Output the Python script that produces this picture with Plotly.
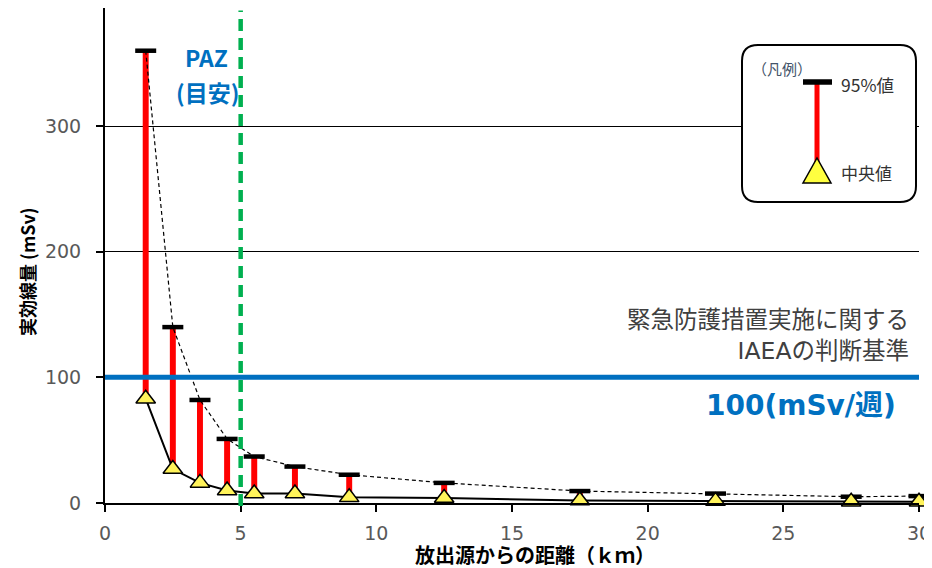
import plotly.graph_objects as go

# ---- data ----
distance_km = [1.5, 2.5, 3.5, 4.5, 5.5, 7, 9, 12.5, 17.5, 22.5, 27.5, 30]
dose_p95 = [360, 140, 82, 51, 37, 29, 22.5, 16, 9.5, 7.5, 5, 5.5]
dose_median = [83, 27, 16, 10, 7.5, 7.5, 4.5, 4, 2, 1.5, 1, 1]
x_ticks = [0, 5, 10, 15, 20, 25, 30]
y_ticks = [0, 100, 200, 300]
paz_km = 5
iaea_level = 100

# ---- layout geometry ----
# the page body has an 8px margin, so the figure is drawn 8px in from the corner
O = 8
W, H = 932 - O, 568 - O
L, R, T, B = 97, 13, 0, 65
PW, PH = W - L - R, H - T - B


def X(px):  # reference-screenshot pixel -> paper x
    return (px - O - L) / PW


def Y(py):  # reference-screenshot pixel -> paper y
    return (T + PH - (py - O)) / PH


JP = "Noto Sans CJK JP"
WIDE = "DejaVu Sans, Noto Sans CJK JP"

fig = go.Figure()

# red range bars (median -> 95%)
fig.add_trace(go.Bar(
    x=distance_km,
    y=[p - m for p, m in zip(dose_p95, dose_median)],
    base=dose_median,
    width=0.22,
    marker=dict(color="#FF0000", line=dict(width=0)),
    showlegend=False, hoverinfo="skip",
))

# dashed line through 95% values
fig.add_trace(go.Scatter(
    x=distance_km, y=dose_p95, mode="lines",
    line=dict(color="black", width=1.2, dash="4px,3px"),
    showlegend=False, cliponaxis=False,
))

# solid line through medians
fig.add_trace(go.Scatter(
    x=distance_km, y=dose_median, mode="lines",
    line=dict(color="black", width=2),
    showlegend=False, cliponaxis=False,
))

# 95% caps
fig.add_trace(go.Scatter(
    x=distance_km, y=dose_p95, mode="markers",
    marker=dict(symbol="line-ew", size=15, line=dict(color="black", width=4.5)),
    showlegend=False, cliponaxis=False,
))

# median triangles
fig.add_trace(go.Scatter(
    x=distance_km, y=dose_median, mode="markers",
    marker=dict(symbol="triangle-up", size=17, color="#FFF35A",
                line=dict(color="black", width=1.5)),
    showlegend=False, cliponaxis=False,
))

shapes = []
# IAEA 100 mSv line
shapes.append(dict(type="line", xref="paper", yref="y", x0=0, x1=1,
                   y0=iaea_level, y1=iaea_level,
                   line=dict(color="#0070C0", width=5), layer="above"))
# PAZ line
shapes.append(dict(type="line", xref="x", yref="paper", x0=paz_km, x1=paz_km,
                   y0=-0.006, y1=0.995,
                   line=dict(color="#00B050", width=4.5, dash="12px,7px"),
                   layer="above"))

# legend box (rounded rectangle)
x0, x1, y0, y1, r = 742, 916, 45, 202, 16
path = (f"M {X(x0+r)},{Y(y0)} L {X(x1-r)},{Y(y0)} Q {X(x1)},{Y(y0)} {X(x1)},{Y(y0+r)} "
        f"L {X(x1)},{Y(y1-r)} Q {X(x1)},{Y(y1)} {X(x1-r)},{Y(y1)} "
        f"L {X(x0+r)},{Y(y1)} Q {X(x0)},{Y(y1)} {X(x0)},{Y(y1-r)} "
        f"L {X(x0)},{Y(y0+r)} Q {X(x0)},{Y(y0)} {X(x0+r)},{Y(y0)} Z")
shapes.append(dict(type="path", xref="paper", yref="paper", path=path,
                   fillcolor="white", line=dict(color="black", width=2), layer="above"))
# legend red bar
shapes.append(dict(type="line", xref="paper", yref="paper",
                   x0=X(817), x1=X(817), y0=Y(84), y1=Y(165),
                   line=dict(color="#FF0000", width=5), layer="above"))
# legend cap
shapes.append(dict(type="line", xref="paper", yref="paper",
                   x0=X(803), x1=X(832), y0=Y(82), y1=Y(82),
                   line=dict(color="black", width=5.5), layer="above"))
# legend triangle
tri = f"M {X(803)},{Y(183)} L {X(831)},{Y(183)} L {X(817)},{Y(158)} Z"
shapes.append(dict(type="path", xref="paper", yref="paper", path=tri,
                   fillcolor="#FFFF40", line=dict(color="black", width=1.5), layer="above"))

annotations = []


def ann(text, px, py, size, color, xanchor="center", bold=False, angle=0,
        family=JP, align="center"):
    annotations.append(dict(
        text=f"<b>{text}</b>" if bold else text,
        x=X(px), y=Y(py), xref="paper", yref="paper",
        xanchor=xanchor, yanchor="middle", showarrow=False, textangle=angle,
        align=align, font=dict(family=family, size=size, color=color),
    ))


ann("PAZ", 206, 57, 23, "#0070C0", bold=True)
ann("(目安)", 207, 92, 23, "#0070C0", bold=True)
ann("緊急防護措置実施に関する<br>IAEAの判断基準", 911, 335, 23.5, "#404040",
    xanchor="right", family=WIDE, align="right")
ann("100(mSv/週)", 898, 405, 28, "#0070C0", xanchor="right", bold=True, family=WIDE)
ann("（凡例）", 750, 68, 15, "#44546A", xanchor="left")
ann("95%値", 839, 84, 17.5, "#333333", xanchor="left")
ann("中央値", 839, 172, 17, "#333333", xanchor="left")
ann("実効線量 (mSv)", 27, 272, 18, "black", bold=True, angle=-90)
ann("放出源からの距離（ｋｍ）", 535, 556, 20, "black", bold=True, family=WIDE)

tickfont = dict(family="DejaVu Sans", size=19, color="#595959")

fig.update_layout(
    width=W, height=H,
    margin=dict(l=L, r=R, t=T, b=B),
    paper_bgcolor="white", plot_bgcolor="white",
    shapes=shapes, annotations=annotations,
    showlegend=False,
    xaxis=dict(range=[0, 30], tickvals=x_ticks, showgrid=False, zeroline=False,
               showline=True, linecolor="black", linewidth=2,
               ticks="outside", ticklen=7, tickwidth=1.5, tickcolor="black",
               ticklabelstandoff=5, tickfont=tickfont),
    yaxis=dict(range=[0, 394], tickvals=y_ticks, showgrid=True, gridcolor="black",
               gridwidth=1, zeroline=False,
               showline=True, linecolor="black", linewidth=2,
               ticks="outside", ticklen=7, tickwidth=1.5, tickcolor="black",
               ticklabelstandoff=11, tickfont=tickfont),
)

fig.write_html("out.html")
